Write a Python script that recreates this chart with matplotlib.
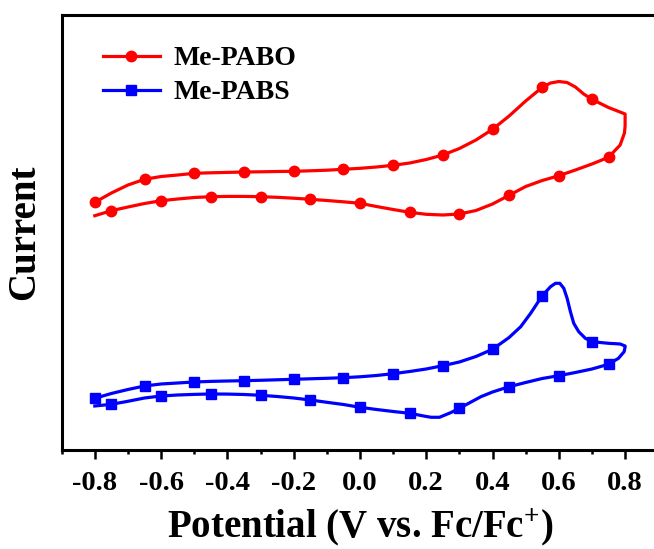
import numpy as np
import matplotlib
matplotlib.use("Agg")
import matplotlib.pyplot as plt

plt.rcParams["font.family"] = ["Liberation Serif", "DejaVu Serif"]
plt.rcParams["font.weight"] = "bold"
plt.rcParams["mathtext.fontset"] = "custom"
plt.rcParams["mathtext.rm"] = "Liberation Serif:bold"
plt.rcParams["mathtext.bf"] = "Liberation Serif:bold"
plt.rcParams["mathtext.default"] = "rm"

# ---- Me-PABO: forward (anodic) sweep then reverse sweep ----
pabo_fwd_v = [-0.8, -0.75, -0.7, -0.65, -0.6, -0.55, -0.5, -0.45, -0.4, -0.35,
              -0.3, -0.25, -0.2, -0.15, -0.1, -0.05, 0.0, 0.05, 0.1, 0.15,
              0.2, 0.25, 0.3, 0.35, 0.4, 0.45, 0.5, 0.55, 0.575, 0.6,
              0.625, 0.65, 0.675, 0.7, 0.75, 0.8]
pabo_fwd_i = [25.77, 26.70, 27.50, 28.07, 28.35, 28.50, 28.67, 28.72, 28.76, 28.80,
              28.82, 28.85, 28.87, 28.92, 28.98, 29.07, 29.17, 29.30, 29.47, 29.70,
              30.05, 30.50, 31.15, 32.00, 33.07, 34.40, 35.90, 37.27, 37.70, 37.85,
              37.75, 37.30, 36.60, 36.07, 35.25, 34.60]
pabo_rev_v = [0.8, 0.8, 0.798, 0.785, 0.75, 0.7, 0.65, 0.6, 0.55, 0.5,
              0.45, 0.4, 0.35, 0.3, 0.25, 0.2, 0.15, 0.1, 0.05, 0.0,
              -0.05, -0.1, -0.15, -0.2, -0.25, -0.3, -0.35, -0.4, -0.45, -0.5,
              -0.55, -0.6, -0.65, -0.7, -0.75, -0.8]
pabo_rev_i = [34.20, 33.40, 32.70, 31.50, 30.27, 29.60, 29.00, 28.43, 27.95, 27.35,
              26.47, 25.60, 24.95, 24.60, 24.50, 24.57, 24.77, 25.05, 25.35, 25.67,
              25.82, 25.95, 26.07, 26.18, 26.27, 26.33, 26.36, 26.36, 26.33, 26.25,
              26.10, 25.93, 25.65, 25.30, 24.93, 24.43]

# ---- Me-PABS ----
pabs_fwd_v = [-0.8, -0.75, -0.7, -0.65, -0.6, -0.55, -0.5, -0.45, -0.4, -0.35,
              -0.3, -0.25, -0.2, -0.15, -0.1, -0.05, 0.0, 0.05, 0.1, 0.15,
              0.2, 0.25, 0.3, 0.35, 0.4, 0.45, 0.485, 0.515, 0.55, 0.575,
              0.59, 0.603, 0.615, 0.625, 0.635, 0.645, 0.66, 0.68, 0.7, 0.75,
              0.785, 0.8]
pabs_fwd_i = [6.17, 6.65, 7.05, 7.40, 7.60, 7.70, 7.80, 7.86, 7.90, 7.93,
              7.97, 8.02, 8.07, 8.12, 8.17, 8.23, 8.32, 8.45, 8.63, 8.85,
              9.10, 9.43, 9.80, 10.35, 11.07, 12.25, 13.33, 14.67, 16.43, 17.33,
              17.67, 17.67, 17.17, 16.17, 14.83, 13.67, 12.83, 12.17, 11.83, 11.67,
              11.60, 11.40]
pabs_rev_v = [0.8, 0.797, 0.78, 0.75, 0.7, 0.65, 0.6, 0.55, 0.5, 0.45,
              0.4, 0.365, 0.3, 0.275, 0.24, 0.215, 0.2, 0.15, 0.1, 0.05,
              0.0, -0.05, -0.1, -0.15, -0.2, -0.25, -0.3, -0.35, -0.4, -0.45,
              -0.5, -0.55, -0.6, -0.65, -0.7, -0.75, -0.8]
pabs_rev_i = [11.30, 10.83, 10.17, 9.57, 9.10, 8.75, 8.43, 8.15, 7.75, 7.33,
              6.80, 6.33, 5.17, 4.75, 4.27, 4.27, 4.35, 4.67, 4.85, 5.05,
              5.27, 5.55, 5.77, 6.00, 6.20, 6.35, 6.47, 6.55, 6.59, 6.60,
              6.56, 6.50, 6.40, 6.20, 5.87, 5.57, 5.40]

x_ticks = [-0.8, -0.6, -0.4, -0.2, 0.0, 0.2, 0.4, 0.6, 0.8]
series_names = ["Me-PABO", "Me-PABS"]


def loop(fwd_v, fwd_i, rev_v, rev_i):
    """Join both sweeps and pick symbol positions every 0.15 V on each sweep."""
    v = np.array(fwd_v + rev_v)
    i = np.array(fwd_i + rev_i)
    fwd_marks = np.arange(-0.8, 0.701, 0.15)
    rev_marks = np.arange(0.75, -0.751, -0.15)
    idx = [k for k, p in enumerate(fwd_v) if np.isclose(p, fwd_marks).any()]
    idx += [len(fwd_v) + k for k, p in enumerate(rev_v)
            if np.isclose(p, rev_marks).any() and k > 0]
    return v, i, idx


fig = plt.figure(figsize=(6.54, 5.49), dpi=100)
ax = fig.add_axes([0.0943, 0.1809, 0.9122, 0.7923])

v, i, idx = loop(pabo_fwd_v, pabo_fwd_i, pabo_rev_v, pabo_rev_i)
ax.plot(v, i, color="#ff0000", lw=2.3, marker="o", ms=7.5, markevery=idx,
        solid_joinstyle="round", label=series_names[0])
v, i, idx = loop(pabs_fwd_v, pabs_fwd_i, pabs_rev_v, pabs_rev_i)
ax.plot(v, i, color="#0000ff", lw=2.3, marker="s", ms=7, markevery=idx,
        solid_joinstyle="round", label=series_names[1])

ax.set_xlim(-0.89, 0.9)
ax.set_ylim(1.03, 44.53)
ax.set_xticks(x_ticks)
ax.set_xticklabels([f"{t:.1f}" for t in x_ticks])
ax.set_xticks(np.arange(-0.9, 0.91, 0.1), minor=True)
ax.set_yticks([])
ax.tick_params(axis="x", which="major", direction="out", length=6.5, width=1.8,
               pad=8.5, labelsize=20.5)
ax.tick_params(axis="x", which="minor", direction="out", length=3, width=1.8)
for s in ax.spines.values():
    s.set_linewidth(2.2)

ax.set_xlabel(r"Potential (V vs. Fc/Fc$^{+}$)", fontsize=28, fontweight="bold",
              labelpad=8)
ax.set_ylabel("Current", fontsize=28, fontweight="bold", labelpad=13)

ax.legend(loc="upper left", bbox_to_anchor=(103 / 654, 1 - 46 / 549),
          bbox_transform=fig.transFigure, frameon=False,
          handlelength=2.05, handletextpad=0.47, labelspacing=0.3,
          borderpad=0, borderaxespad=0, prop={"weight": "bold", "size": 20})

fig.savefig("out.png", dpi=100)
